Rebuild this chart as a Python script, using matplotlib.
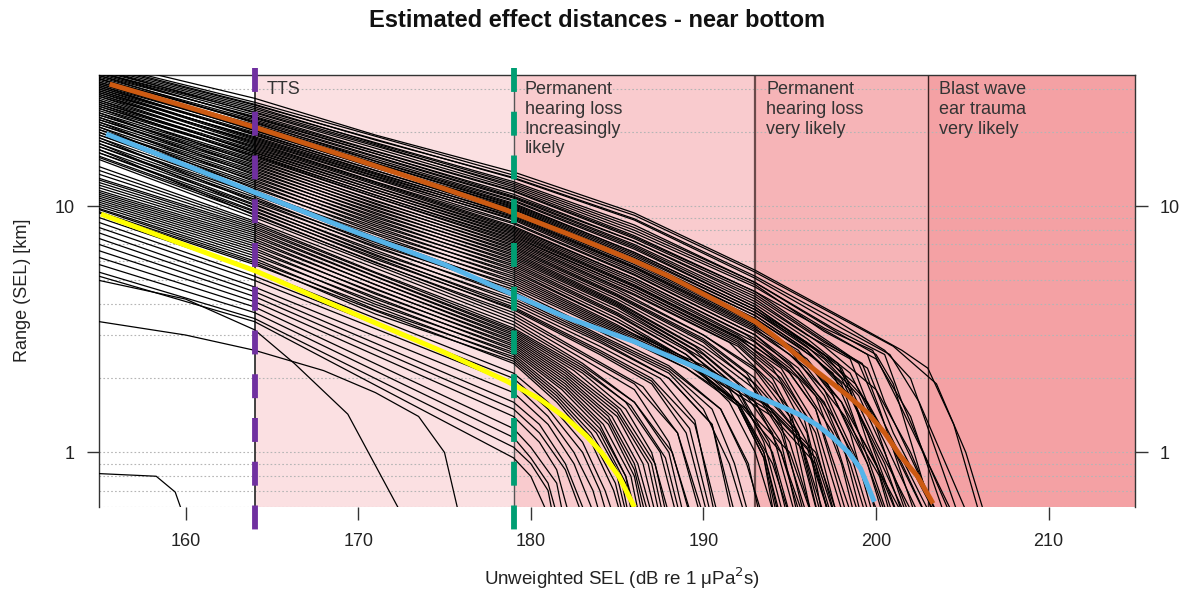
import matplotlib.pyplot as plt
import matplotlib.transforms as mtransforms
from matplotlib.ticker import NullLocator

plt.rcParams['font.family'] = ['Liberation Sans', 'DejaVu Sans']

# ---- data ----
# zones of effect (SEL thresholds, dB)
zone_edges = [(164, 179), (179, 193), (193, 203), (203, 215)]
zone_colors = ['#fbe0e2', '#f9cbce', '#f6b4b7', '#f4a1a4']
zone_labels = ['TTS', 'Permanent\nhearing loss\nIncreasingly\nlikely',
               'Permanent\nhearing loss\nvery likely', 'Blast wave\near trauma\nvery likely']
zone_label_x = [164.7, 179.65, 193.65, 203.67]

grid_levels = [0.6, 0.7, 0.8, 0.9, 1, 2, 3, 4, 5, 6, 7, 8, 9, 10, 20, 30]

# threshold markers
tts_onset = 164
pts_onset = 179

# summary curves
orange_x = [155.6, 160, 164, 170, 175, 178.5, 182, 184, 186, 188, 190, 191.5, 193, 194.3,
            195.6, 196.5, 197.5, 198.5, 199.5, 200.5, 201.4, 202.4, 203.3]
orange_v = [31.4, 25.5, 21.0, 15.4, 11.8, 9.7, 7.8, 6.85, 6.0, 5.2, 4.4, 3.88, 3.4, 2.9,
            2.42, 2.15, 1.9, 1.67, 1.45, 1.2, 0.97, 0.8, 0.62]
blue_x = [155.4, 160, 164, 170, 175, 178.6, 182, 186, 190, 192.9, 194.3, 195.6, 196.6,
          197.5, 198.4, 199.1, 199.9]
blue_v = [19.7, 14.7, 11.4, 7.8, 5.8, 4.5, 3.55, 2.82, 2.15, 1.71, 1.56, 1.42, 1.29,
          1.15, 1.0, 0.86, 0.63]
yellow_x = [155.1, 160, 164.1, 170, 175, 178.6, 180.5, 182.1, 183.2, 184.1, 185.1, 186.0]
yellow_v = [9.3, 6.95, 5.45, 3.6, 2.55, 1.95, 1.65, 1.37, 1.17, 1.0, 0.8, 0.6]

# individual runs (x = SEL, v = range km)
upper_runs = [
    [(155, 38), (164, 26.5), (179, 13.4), (186, 9.2), (193, 5.4), (198, 3.5), (201, 2.7), (203.5, 1.9), (205.2, 1.0), (206.5, 0.5)],
    [(155, 37), (164, 25.8), (179, 13.0), (186, 8.8), (193, 5.1), (198, 3.2), (200.8, 2.5), (202.5, 1.6), (205.6, 0.5)],
    [(155, 36), (164, 25.0), (179, 12.6), (186, 8.4), (193, 4.9), (197.5, 3.2), (200.5, 2.5), (201.5, 1.6), (204.6, 0.5)],
    [(155, 35), (164, 24.2), (179, 12.2), (186, 8.0), (193, 4.8), (197, 3.1), (200, 2.4), (202, 1.4), (204.2, 0.5)],
    [(155, 36), (164, 24.0), (179, 11.8), (186, 7.6), (193, 4.5), (197, 2.9), (199.5, 2.2), (201, 1.2), (203.8, 0.5)],
    [(155, 34), (164, 23.2), (179, 11.5), (186, 7.4), (193, 4.4), (196.5, 3.0), (199, 2.3), (200.5, 1.3), (203.5, 0.5)],
    [(155, 35), (164, 22.8), (179, 11.2), (186, 7.2), (193, 4.2), (197, 2.7), (200, 1.8), (202, 1.0), (203.8, 0.5)],
    [(155, 33), (164, 22.2), (179, 10.8), (186, 6.9), (193, 4.0), (196, 2.9), (198.5, 2.1), (200.5, 1.1), (202.8, 0.5)],
    [(155, 34), (164, 21.8), (179, 10.6), (186, 6.8), (193, 3.9), (197, 2.5), (199.5, 1.6), (201.5, 0.9), (203.2, 0.5)],
    [(155, 32), (164, 21.5), (179, 10.3), (186, 6.5), (193, 3.8), (196, 2.8), (198, 2.2), (200, 1.1), (202.5, 0.5)],
    [(155, 33), (164, 21.0), (179, 10.1), (186, 6.4), (193, 3.7), (197, 2.4), (199, 1.7), (200.5, 1.0), (202.2, 0.5)],
    [(155, 31), (164, 20.6), (179, 9.9), (186, 6.2), (193, 3.6), (196, 2.6), (198.5, 1.7), (200.5, 0.9), (201.8, 0.5)],
    [(155, 32), (164, 20.3), (179, 9.7), (186, 6.1), (193, 3.5), (196.5, 2.4), (198.5, 1.8), (199.5, 1.1), (201.5, 0.5)],
    [(155, 30), (164, 19.8), (179, 9.4), (186, 5.9), (193, 3.4), (196, 2.3), (198, 1.6), (200, 0.9), (201.2, 0.5)],
    [(155, 31), (164, 19.5), (179, 9.2), (186, 5.7), (193, 3.3), (195.5, 2.6), (197.5, 1.7), (199.5, 0.9), (200.8, 0.5)],
    [(155, 29), (164, 19.2), (179, 9.0), (186, 5.6), (193, 3.2), (196, 2.2), (198.2, 1.4), (200.2, 0.8), (201.0, 0.5)],
    [(155, 30), (164, 18.8), (179, 8.8), (186, 5.4), (193, 3.1), (195, 2.5), (197, 1.8), (199, 0.9), (200.4, 0.5)],
    [(155, 28), (164, 18.4), (179, 8.6), (186, 5.3), (193, 3.0), (195.5, 2.2), (197.5, 1.4), (199.5, 0.75), (200.2, 0.5)],
    [(155, 29), (164, 18.0), (179, 8.3), (186, 5.1), (193, 2.9), (195, 2.3), (196.8, 1.6), (198.5, 0.9), (199.6, 0.5)],
    [(155, 27), (164, 17.6), (179, 8.1), (186, 5.0), (193, 2.8), (195.5, 2.0), (197.5, 1.2), (199.2, 0.5)],
    [(155, 28), (164, 17.2), (179, 7.9), (186, 4.8), (193, 2.7), (195, 2.1), (196.5, 1.5), (198.8, 0.5)],
    [(155, 26), (164, 16.8), (179, 7.7), (186, 4.7), (192, 2.9), (194.5, 2.2), (196.5, 1.3), (198.3, 0.5)],
    [(155, 27), (164, 16.5), (179, 7.5), (186, 4.6), (192, 2.8), (194.5, 2.0), (196, 1.4), (197.8, 0.5)],
    [(155, 25), (164, 16.1), (179, 7.3), (186, 4.4), (192, 2.7), (194, 2.0), (196, 1.1), (197.5, 0.5)],
    [(155, 39), (164, 27.5), (171, 19.5), (179, 13.8), (186, 9.4), (193, 5.5), (198.5, 3.4), (201.5, 2.6), (203, 2.2), (204.5, 1.3), (206.2, 0.5)],
    [(155, 37.5), (164, 26.0), (171, 18.6), (179, 13.1), (186, 8.9), (193, 5.2), (197.5, 3.5), (200.5, 2.6), (202, 2.0), (205, 0.5)],
    [(155, 36.5), (164, 25.4), (171, 18.0), (179, 12.4), (186, 8.2), (193, 4.9), (198, 3.0), (200, 2.5), (201, 1.9), (203.5, 0.5)],
    [(155, 35.5), (164, 24.6), (171, 17.8), (179, 12.0), (186, 7.8), (193, 4.7), (197, 3.2), (199.8, 2.6), (201.5, 1.5), (204.8, 0.5)],
    [(155, 35), (164, 23.6), (171, 16.8), (179, 11.6), (186, 7.5), (193, 4.5), (196.5, 3.3), (199.5, 2.5), (200.5, 1.6), (203.9, 0.5)],
    [(155, 34.5), (164, 23.0), (171, 16.4), (179, 11.0), (186, 7.2), (193, 4.3), (197, 2.8), (199.2, 2.3), (200.2, 1.5), (202.5, 0.5)],
    [(155, 33.5), (164, 22.5), (171, 16.0), (179, 10.9), (186, 7.0), (193, 4.1), (196, 3.0), (198.5, 2.4), (199.8, 1.4), (202, 0.5)],
    [(155, 33), (164, 22.0), (171, 15.3), (179, 10.5), (186, 6.7), (193, 3.9), (196.5, 2.6), (198.8, 1.9), (200.8, 1.1), (203.2, 0.5)],
    [(155, 32.5), (164, 21.3), (171, 15.0), (179, 10.2), (186, 6.5), (193, 3.8), (196, 2.7), (198, 2.0), (199.5, 1.2), (201.5, 0.5)],
    [(155, 31.5), (164, 20.8), (171, 14.6), (179, 10.0), (186, 6.3), (193, 3.7), (195.5, 2.9), (197.8, 2.3), (199.5, 1.2), (202, 0.5)],
    [(155, 31.5), (164, 20.4), (171, 14.3), (179, 9.8), (186, 6.1), (193, 3.6), (196, 2.6), (198, 1.9), (199.2, 1.1), (200.9, 0.5)],
    [(155, 30.5), (164, 20.0), (171, 14.0), (179, 9.5), (186, 6.0), (193, 3.5), (195.5, 2.7), (197.5, 2.1), (199, 1.2), (201.9, 0.5)],
    [(155, 30.5), (164, 19.6), (171, 13.6), (179, 9.3), (186, 5.8), (193, 3.35), (196, 2.4), (198, 1.6), (199.5, 0.9), (200.6, 0.5)],
    [(155, 29.5), (164, 19.0), (171, 13.3), (179, 9.1), (186, 5.65), (193, 3.25), (195.5, 2.5), (197.2, 1.9), (198.5, 1.2), (200, 0.5)],
    [(155, 29.5), (164, 18.6), (171, 13.0), (179, 8.9), (186, 5.5), (193, 3.15), (195, 2.6), (197, 1.7), (198.5, 1.0), (199.8, 0.5)],
    [(155, 28.5), (164, 18.2), (171, 12.6), (179, 8.5), (186, 5.25), (193, 3.0), (195.5, 2.1), (197, 1.6), (198.2, 1.0), (199.3, 0.5)],
    [(155, 28.5), (164, 17.8), (171, 12.4), (179, 8.2), (186, 5.1), (192.5, 3.0), (195, 2.2), (196.5, 1.7), (198, 0.9), (198.9, 0.5)],
    [(155, 27.5), (164, 17.4), (171, 12.0), (179, 8.0), (186, 4.9), (192, 3.0), (194.8, 2.2), (196.5, 1.5), (198.5, 0.5)],
    [(155, 26.5), (164, 17.0), (171, 11.7), (179, 7.8), (186, 4.75), (192, 2.95), (194.5, 2.1), (196.5, 1.2), (197.9, 0.5)],
    [(155, 26.5), (164, 16.6), (171, 11.4), (179, 7.6), (186, 4.6), (192, 2.85), (194, 2.2), (195.8, 1.4), (197.4, 0.5)],
    [(155, 25.5), (164, 16.3), (171, 11.1), (179, 7.4), (186, 4.5), (192, 2.75), (194.5, 1.9), (196, 1.2), (197, 0.5)],
    [(155, 25.5), (164, 16.0), (171, 10.9), (179, 7.2), (186, 4.35), (191.5, 2.8), (194, 1.9), (195.5, 1.2), (196.8, 0.5)],
]
mid_runs = [
    [(155, 26), (164, 15.8), (179, 7.1), (185, 4.6), (190, 3.0), (193, 2.2), (195, 1.5), (196.8, 0.5)],
    [(155, 24), (164, 15.4), (179, 6.9), (185, 4.4), (190, 2.9), (193, 2.0), (195.5, 1.2), (197.2, 0.5)],
    [(155, 25), (164, 15.0), (179, 6.7), (185, 4.3), (190, 2.8), (192.5, 2.0), (194.5, 1.2), (196.2, 0.5)],
    [(155, 23), (164, 14.6), (179, 6.5), (185, 4.1), (190, 2.6), (193, 1.8), (195, 1.1), (196.5, 0.5)],
    [(155, 24), (164, 14.2), (179, 6.3), (185, 4.0), (190, 2.5), (192, 1.9), (194, 1.2), (195.5, 0.5)],
    [(155, 22), (164, 13.8), (179, 6.1), (185, 3.9), (190, 2.4), (193, 1.6), (194.5, 1.0), (195.8, 0.5)],
    [(155, 23), (164, 13.4), (179, 5.9), (185, 3.7), (189, 2.6), (192, 1.8), (193.5, 1.1), (194.8, 0.5)],
    [(155, 21), (164, 13.0), (179, 5.7), (185, 3.6), (189, 2.5), (192, 1.6), (194, 0.9), (195.2, 0.5)],
    [(155, 22), (164, 12.6), (179, 5.5), (185, 3.4), (189, 2.4), (191.5, 1.6), (193, 1.0), (194.3, 0.5)],
    [(155, 20), (164, 12.2), (179, 5.3), (185, 3.3), (189, 2.3), (192.5, 1.5), (195, 1.0), (196.5, 0.5)],
    [(155, 21), (164, 11.8), (179, 5.1), (185, 3.2), (190, 2.2), (194, 1.5), (196.5, 1.0), (198, 0.5)],
    [(155, 19), (164, 11.4), (179, 4.9), (185, 3.1), (190, 2.1), (194, 1.4), (196.5, 0.9), (197.6, 0.5)],
    [(155, 20), (164, 11.1), (179, 4.7), (185, 3.0), (189, 2.2), (192, 1.6), (193.5, 1.0), (194.6, 0.5)],
    [(155, 18), (164, 10.7), (179, 4.5), (184, 3.0), (188, 2.2), (191, 1.5), (192.5, 0.9), (193.6, 0.5)],
    [(155, 19), (164, 10.4), (179, 4.3), (184, 2.9), (188, 2.1), (190, 1.5), (191.5, 0.9), (192.6, 0.5)],
    [(155, 17), (164, 10.1), (179, 4.1), (184, 2.8), (188, 2.0), (190.5, 1.3), (191.8, 0.5)],
    [(155, 18), (164, 9.8), (179, 3.9), (184, 2.6), (187, 2.0), (189.5, 1.3), (191, 0.5)],
    [(155, 16), (164, 9.5), (179, 3.8), (184, 2.5), (187, 1.9), (189, 1.2), (190.4, 0.5)],
    [(155, 17), (164, 9.2), (179, 3.6), (183, 2.5), (186, 1.9), (188.5, 1.2), (190, 0.5)],
    [(155, 15.5), (164, 9.0), (179, 3.5), (183, 2.4), (186, 1.8), (188, 1.1), (189.5, 0.5)],
    [(155, 24.5), (164, 15.6), (171, 10.5), (179, 7.0), (185, 4.5), (190, 3.0), (193, 2.15), (195, 1.4), (196.4, 0.5)],
    [(155, 23.5), (164, 15.2), (171, 10.2), (179, 6.8), (185, 4.35), (190, 2.85), (192.5, 2.1), (194.5, 1.3), (196, 0.5)],
    [(155, 23.5), (164, 14.8), (171, 9.9), (179, 6.6), (185, 4.2), (190, 2.7), (193, 1.9), (195.5, 1.2), (197, 0.5)],
    [(155, 22.5), (164, 14.4), (171, 9.6), (179, 6.4), (185, 4.05), (189.5, 2.7), (192.5, 1.8), (194.5, 1.1), (195.6, 0.5)],
    [(155, 22.5), (164, 14.0), (171, 9.3), (179, 6.2), (185, 3.95), (189.5, 2.6), (192, 1.8), (193.8, 1.1), (195, 0.5)],
    [(155, 21.5), (164, 13.6), (171, 9.0), (179, 6.0), (185, 3.8), (189, 2.65), (192, 1.7), (194, 1.0), (195.2, 0.5)],
    [(155, 21.5), (164, 13.2), (171, 8.7), (179, 5.8), (185, 3.65), (189, 2.5), (191.5, 1.8), (193.5, 1.0), (194.5, 0.5)],
    [(155, 20.5), (164, 12.8), (171, 8.4), (179, 5.6), (185, 3.5), (189, 2.4), (192, 1.55), (193.5, 0.95), (194.4, 0.5)],
    [(155, 20.5), (164, 12.4), (171, 8.1), (179, 5.4), (185, 3.4), (189, 2.35), (192, 1.6), (194.5, 1.0), (196, 0.5)],
    [(155, 19.5), (164, 12.0), (171, 7.8), (179, 5.2), (185, 3.25), (190, 2.25), (193.5, 1.6), (196, 1.05), (197.5, 0.5)],
    [(155, 19.5), (164, 11.6), (171, 7.5), (179, 5.0), (185, 3.15), (190, 2.15), (194, 1.45), (196.5, 0.95), (197.8, 0.5)],
    [(155, 18.5), (164, 11.2), (171, 7.2), (179, 4.8), (185, 3.05), (189, 2.2), (192, 1.55), (193.5, 0.95), (194.2, 0.5)],
    [(155, 18.5), (164, 10.9), (171, 7.0), (179, 4.6), (184, 3.1), (188, 2.25), (191, 1.5), (192.6, 0.9), (193.4, 0.5)],
    [(155, 17.5), (164, 10.6), (171, 6.8), (179, 4.4), (184, 2.95), (188, 2.15), (190.5, 1.5), (191.8, 0.9), (192.8, 0.5)],
    [(155, 17.5), (164, 10.2), (171, 6.5), (179, 4.2), (184, 2.85), (188, 2.0), (190.5, 1.3), (192, 0.5)],
    [(155, 16.5), (164, 9.9), (171, 6.3), (179, 4.0), (184, 2.7), (187.5, 2.0), (189.5, 1.35), (190.8, 0.5)],
    [(155, 16.5), (164, 9.6), (171, 6.1), (179, 3.85), (184, 2.55), (187, 1.95), (189.2, 1.25), (190.6, 0.5)],
    [(155, 15.8), (164, 9.3), (171, 5.9), (179, 3.7), (183, 2.55), (186.5, 1.85), (188.5, 1.2), (190.2, 0.5)],
]
lower_runs = [
    [(155, 14.5), (164, 8.7), (179, 3.4), (183, 2.3), (186, 1.6), (188, 1.0), (189, 0.5)],
    [(155, 13.5), (164, 8.4), (179, 3.2), (183, 2.2), (185.5, 1.6), (187.5, 1.0), (188.6, 0.5)],
    [(155, 12.8), (164, 8.1), (179, 3.1), (183, 2.1), (185.5, 1.5), (187, 1.0), (188.2, 0.5)],
    [(155, 12.2), (164, 7.8), (179, 3.0), (182, 2.2), (185, 1.5), (187, 0.9), (187.8, 0.5)],
    [(155, 11.6), (164, 7.5), (179, 2.9), (182, 2.1), (185, 1.4), (186.5, 0.9), (187.4, 0.5)],
    [(155, 11.2), (164, 7.2), (179, 2.8), (182, 2.0), (184.5, 1.4), (186, 0.9), (187, 0.5)],
    [(155, 10.8), (164, 6.9), (179, 2.7), (182, 1.9), (184.5, 1.3), (186, 0.8), (186.6, 0.5)],
    [(155, 10.4), (164, 6.6), (179, 2.6), (182, 1.8), (184, 1.3), (185.5, 0.8), (186.3, 0.5)],
    [(155, 10.0), (164, 6.3), (179, 2.5), (181.5, 1.8), (184, 1.2), (185.5, 0.75), (186, 0.5)],
    [(155, 9.7), (164, 6.0), (179, 2.4), (181.5, 1.7), (183.5, 1.2), (185, 0.8), (185.7, 0.5)],
    [(155, 9.4), (164, 5.8), (179, 2.3), (181.5, 1.6), (183.5, 1.1), (184.8, 0.7), (185.4, 0.5)],
    [(155, 9.0), (164, 5.5), (179, 2.1), (181, 1.6), (183, 1.1), (184.3, 0.7), (185, 0.5)],
    [(155, 8.6), (164, 5.2), (179, 2.0), (181, 1.5), (183, 1.0), (184, 0.7), (184.6, 0.5)],
    [(155, 8.2), (164, 5.0), (179, 1.9), (181, 1.4), (182.5, 1.0), (183.6, 0.7), (184.2, 0.5)],
    [(155, 7.8), (164, 4.7), (179, 1.75), (181, 1.3), (182.5, 0.9), (183.5, 0.6), (183.8, 0.5)],
    [(155, 7.4), (164, 4.5), (179, 1.6), (180.5, 1.3), (182, 0.9), (183, 0.6), (183.4, 0.5)],
    [(155, 7.0), (164, 4.3), (179, 1.5), (180.5, 1.2), (182, 0.85), (182.8, 0.6), (183.1, 0.5)],
    [(155, 6.6), (164, 4.1), (179, 1.4), (180.5, 1.1), (181.5, 0.85), (182.4, 0.5)],
    [(155, 6.2), (164, 3.9), (179, 1.25), (180, 1.05), (181.5, 0.75), (182, 0.5)],
    [(155, 5.8), (164, 3.7), (179, 1.15), (180, 0.95), (181, 0.75), (181.7, 0.5)],
    [(155, 5.4), (164, 3.5), (179, 1.05), (180, 0.9), (181, 0.7), (181.4, 0.5)],
    [(155, 5.2), (164, 3.4), (179, 0.95), (180, 0.8), (180.8, 0.6), (181, 0.5)],
    [(155, 14), (164, 8.55), (171, 5.4), (179, 3.3), (183, 2.25), (186, 1.6), (188.2, 1.0), (189.4, 0.5)],
    [(155, 13), (164, 8.25), (171, 5.2), (179, 3.15), (183, 2.15), (185.8, 1.55), (187.8, 0.95), (188.8, 0.5)],
    [(155, 12.5), (164, 7.95), (171, 5.0), (179, 3.05), (182.5, 2.15), (185.2, 1.5), (187.2, 0.9), (188, 0.5)],
    [(155, 11.9), (164, 7.65), (171, 4.8), (179, 2.95), (182, 2.15), (185, 1.45), (186.8, 0.9), (187.6, 0.5)],
    [(155, 11.4), (164, 7.35), (171, 4.6), (179, 2.85), (182, 2.05), (184.7, 1.4), (186.2, 0.9), (187.2, 0.5)],
    [(155, 11), (164, 7.05), (171, 4.4), (179, 2.75), (182, 1.95), (184.5, 1.35), (186, 0.85), (186.8, 0.5)],
    [(155, 10.6), (164, 6.75), (171, 4.2), (179, 2.65), (182, 1.85), (184.2, 1.3), (185.8, 0.8), (186.4, 0.5)],
    [(155, 10.2), (164, 6.45), (171, 4.0), (179, 2.55), (181.8, 1.8), (184, 1.25), (185.5, 0.8), (186.1, 0.5)],
    [(155, 9.8), (164, 6.15), (171, 3.8), (179, 2.45), (181.5, 1.75), (183.8, 1.2), (185.2, 0.8), (185.8, 0.5)],
    [(155, 9.5), (164, 5.9), (171, 3.65), (179, 2.35), (181.5, 1.65), (183.5, 1.15), (184.9, 0.75), (185.5, 0.5)],
]
stray_runs = [
    [(155, 5.0), (160, 4.2), (164, 3.15), (166.3, 2.3), (169.4, 1.43), (172.9, 0.5)],
    [(155, 3.4), (160, 3.0), (164, 2.6), (168, 2.15), (171, 1.75), (173.5, 1.4), (175, 1.0), (176, 0.5)],
    [(155, 0.82), (158.3, 0.8), (159.4, 0.69), (160.1, 0.5)],
]

# ---- figure ----
fig = plt.figure(figsize=(11.83, 5.92), dpi=100)
ax = fig.add_axes([0.0839, 0.1436, 0.8755, 0.7297])
ax.set_yscale('log')
ax.set_xlim(155, 215)
ax.set_ylim(0.6, 34.2)

xdata_yaxes = mtransforms.blended_transform_factory(ax.transData, ax.transAxes)

for (x0, x1), c in zip(zone_edges, zone_colors):
    ax.axvspan(x0, x1, color=c, lw=0, zorder=0)

for g in grid_levels:
    ax.axhline(g, color='#b5b5b5', lw=0.8, ls=(0, (1.5, 2.0)), zorder=1)

# zone boundaries
ax.axvline(164, color='#222222', lw=1.2, zorder=2)
ax.axvline(179, color='#555555', lw=1.0, zorder=2)
ax.axvline(193, color='#6a4a4a', lw=1.6, zorder=2)
ax.axvline(203, color='#3a2323', lw=1.0, zorder=2)

for run in upper_runs + mid_runs + lower_runs + stray_runs:
    xs, vs = zip(*run)
    ax.plot(xs, vs, color='black', lw=0.9, zorder=3)

ax.plot(yellow_x, yellow_v, color='#ffff00', lw=3.6, solid_capstyle='butt', zorder=4)
ax.plot(blue_x, blue_v, color='#56b4e9', lw=3.6, solid_capstyle='butt', zorder=4)
ax.plot(orange_x, orange_v, color='#cc5a12', lw=3.6, solid_capstyle='butt', zorder=4)

# dashed threshold markers (run past the frame)
ax.plot([tts_onset, tts_onset], [1.016, -0.076], transform=xdata_yaxes, color='#7030a0',
        lw=4.2, ls=(0, (4.1, 3.4)), clip_on=False, zorder=5)
ax.plot([pts_onset, pts_onset], [1.016, -0.076], transform=xdata_yaxes, color='#009e73',
        lw=4.2, ls=(0, (4.1, 3.4)), clip_on=False, zorder=5)

for lx, txt in zip(zone_label_x, zone_labels):
    ax.text(lx, 0.985, txt, transform=xdata_yaxes, ha='left', va='top',
            fontsize=13, color='#333333', linespacing=1.2, zorder=6)

# axes styling
ax.set_xticks([160, 170, 180, 190, 200, 210])
ax.set_yticks([1, 10], labels=['1', '10'])
ax.yaxis.set_minor_locator(NullLocator())
ax.tick_params(axis='both', length=9, width=1, color='#333333', labelsize=13, labelcolor='#222222')
ax.tick_params(axis='x', pad=10)
ax.tick_params(axis='y', pad=9, left=True, right=True, labelleft=True, labelright=True)
ax.spines['bottom'].set_visible(False)
for side in ['left', 'top', 'right']:
    ax.spines[side].set_color('#333333')
    ax.spines[side].set_linewidth(1.0)

fig.text(0.505, 0.966, 'Estimated effect distances - near bottom', ha='center', va='center',
         fontsize=17, fontweight='bold', color='#111111')
fig.text(0.526, 0.024, 'Unweighted SEL (dB re 1 μPa$^{2}$s)', ha='center', va='center',
         fontsize=13.5, color='#222222')
fig.text(0.019, 0.51, 'Range (SEL) [km]', ha='center', va='center', rotation=90,
         fontsize=13, color='#222222')

fig.savefig('out.png', dpi=100)
